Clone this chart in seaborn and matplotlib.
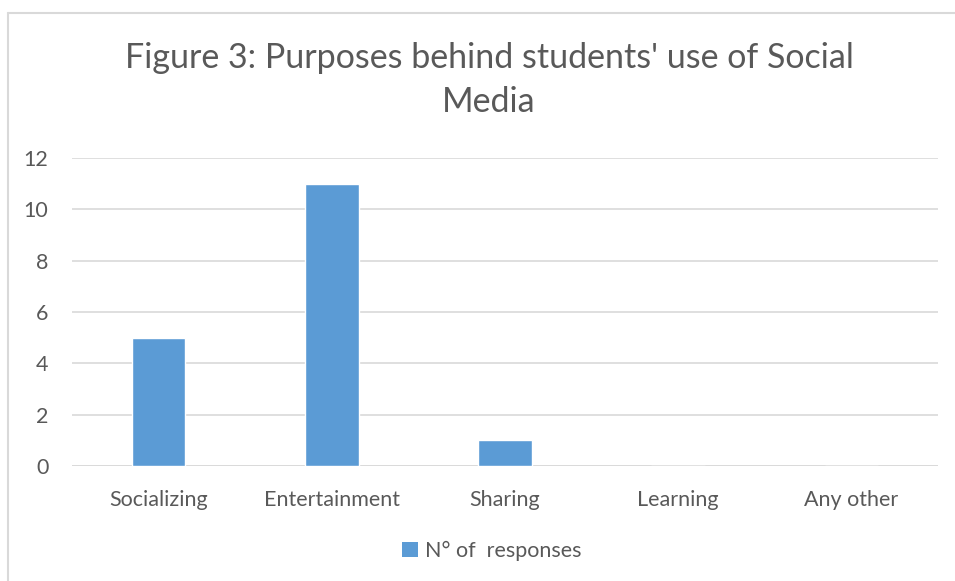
import matplotlib
matplotlib.use("Agg")
import matplotlib.pyplot as plt
import seaborn as sns
import pandas as pd
from matplotlib.lines import Line2D
from matplotlib.patches import Patch

categories = ["Socializing", "Entertainment", "Sharing", "Learning", "Any other"]
responses = [5, 11, 1, 0, 0]
series_name = "N° of  responses"
title = "Figure 3: Purposes behind students' use of Social\nMedia"
y_ticks = [0, 2, 4, 6, 8, 10, 12]

sns.set_theme(style="white")
plt.rcParams["font.family"] = ["Lato", "DejaVu Sans"]

df = pd.DataFrame({"Purpose": categories, "Responses": responses})

fig = plt.figure(figsize=(9.55, 5.81), dpi=100)
ax = fig.add_axes([72/955, 1-466/581, (938-72)/955, (466-158)/581])

bar_color = "#5B9BD5"
sns.barplot(data=df, x="Purpose", y="Responses", color=bar_color, width=0.31,
            saturation=1, ax=ax, zorder=3)

ax.set_ylim(0, 12)
ax.set_xlim(-0.5, len(categories)-0.5)
ax.set_yticks(y_ticks)
ax.yaxis.grid(True, color="#D9D9D9", linewidth=1.2, zorder=0)
ax.xaxis.grid(False)
for s in ax.spines.values():
    s.set_visible(False)
ax.axhline(0, color="#D9D9D9", linewidth=1.2, zorder=2)
ax.set_xlabel("")
ax.set_ylabel("")
ax.tick_params(axis="y", length=0, pad=17, labelsize=15.5, labelcolor="#595959")
ax.tick_params(axis="x", length=0, pad=17, labelsize=15.5, labelcolor="#595959")

fig.text(489/955, 1-80/581, title, ha="center", va="center", fontsize=24.5,
         color="#595959", linespacing=1.48)

handle = Patch(facecolor=bar_color, edgecolor="none")
fig.legend([handle], [series_name], loc="center", bbox_to_anchor=(492/955, 1-551/581),
           frameon=False, fontsize=15.5, labelcolor="#595959", handlelength=0.7,
           handleheight=0.7, handletextpad=0.35)

fig.add_artist(Line2D([8/955, 1.0], [1-13/581, 1-13/581], transform=fig.transFigure,
                      color="#D9D9D9", linewidth=1.5))
fig.add_artist(Line2D([8/955, 8/955], [0, 1-13/581], transform=fig.transFigure,
                      color="#D9D9D9", linewidth=1.5))

fig.savefig("out.png", dpi=100, facecolor="white")
